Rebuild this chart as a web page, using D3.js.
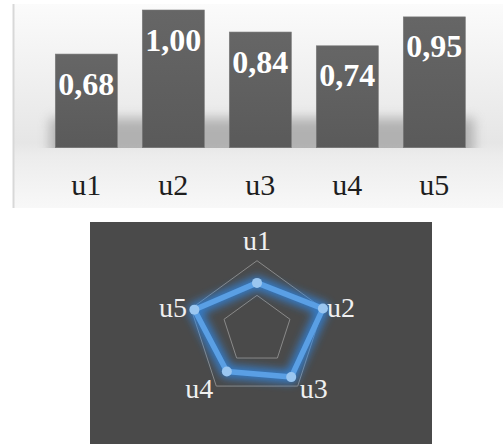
<!DOCTYPE html>
<html>
<head>
<meta charset="utf-8">
<script src="https://cdn.jsdelivr.net/npm/d3@7/dist/d3.min.js"></script>
<style>
  html, body { margin: 0; padding: 0; background: #ffffff; }
  svg { display: block; }
</style>
</head>
<body>
<svg id="chart" width="503" height="444"></svg>
<script>
const categories = ["u1", "u2", "u3", "u4", "u5"];
const values = [0.68, 1.00, 0.84, 0.74, 0.95];
const valueLabels = ["0,68", "1,00", "0,84", "0,74", "0,95"];
const radarLevels = [0.5, 1.0];

const svg = d3.select("#chart");
const defs = svg.append("defs");

const bg = defs.append("linearGradient").attr("id", "bgGrad").attr("x1", 0).attr("y1", 0).attr("x2", 0).attr("y2", 1);
bg.append("stop").attr("offset", "0%").attr("stop-color", "#fbfbfb");
bg.append("stop").attr("offset", "68%").attr("stop-color", "#e6e6e6");
bg.append("stop").attr("offset", "74%").attr("stop-color", "#ececec");
bg.append("stop").attr("offset", "100%").attr("stop-color", "#f8f8f8");

const barGrad = defs.append("linearGradient").attr("id", "barGrad").attr("x1", 0).attr("y1", 0).attr("x2", 0).attr("y2", 1);
barGrad.append("stop").attr("offset", "0%").attr("stop-color", "#666666");
barGrad.append("stop").attr("offset", "100%").attr("stop-color", "#5a5a5a");

defs.append("filter").attr("id", "shadowBlur").attr("x", "-20%").attr("y", "-100%").attr("width", "140%").attr("height", "300%")
  .append("feGaussianBlur").attr("stdDeviation", 6);
defs.append("filter").attr("id", "glow").attr("x", "-50%").attr("y", "-50%").attr("width", "200%").attr("height", "200%")
  .append("feGaussianBlur").attr("stdDeviation", 4.5);
defs.append("clipPath").attr("id", "shadowClip")
  .append("rect").attr("x", 13).attr("y", 90).attr("width", 490).attr("height", 58);

// ---------- Top bar chart ----------
svg.append("rect").attr("x", 13).attr("y", 4).attr("width", 490).attr("height", 204).attr("fill", "url(#bgGrad)");
svg.append("line").attr("x1", 13.5).attr("x2", 13.5).attr("y1", 4).attr("y2", 208)
  .attr("stroke", "#d8d8d8").attr("stroke-width", 2);

const x = d3.scaleBand().domain(categories).range([42.8, 477.8]).paddingInner(0.287).paddingOuter(0.1435);
const y = d3.scaleLinear().domain([0, 1]).range([147.7, 10]);

svg.append("g").attr("clip-path", "url(#shadowClip)")
  .append("rect").attr("x", 50).attr("y", 118).attr("width", 424).attr("height", 40)
  .attr("fill", "#8e8e8e").attr("opacity", 0.6).attr("filter", "url(#shadowBlur)");

const bars = svg.append("g");
bars.selectAll("rect").data(values).join("rect")
  .attr("x", (d, i) => x(categories[i]))
  .attr("y", d => y(d))
  .attr("width", x.bandwidth())
  .attr("height", d => y(0) - y(d))
  .attr("fill", "url(#barGrad)")
  .attr("stroke", "#7a7a7a").attr("stroke-width", 0.6);

bars.selectAll("text.val").data(values).join("text")
  .attr("class", "val")
  .attr("x", (d, i) => x(categories[i]) + x.bandwidth() / 2)
  .attr("y", d => y(d) + 40.5)
  .attr("text-anchor", "middle")
  .attr("font-family", "'Liberation Serif', 'Times New Roman', serif")
  .attr("font-weight", "bold")
  .attr("font-size", 32)
  .attr("fill", "#ffffff")
  .text((d, i) => valueLabels[i]);

const xAxis = d3.axisBottom(x).tickSize(0).tickPadding(0);
const axisG = svg.append("g").attr("transform", "translate(0,195)").call(xAxis);
axisG.select(".domain").remove();
axisG.selectAll("text")
  .attr("dy", 0).attr("y", 0)
  .attr("font-family", "'Liberation Serif', 'Times New Roman', serif")
  .attr("font-size", 30)
  .attr("fill", "#1e1e1e");

// ---------- Bottom radar chart ----------
svg.append("rect").attr("x", 90).attr("y", 222).attr("width", 342).attr("height", 222).attr("fill", "#4a4a4a");

const cx = 257, cy = 330, R = 69.3;
const r = d3.scaleLinear().domain([0, 1]).range([0, R]);
const angle = d3.scalePoint().domain(categories).range([0, 2 * Math.PI * (categories.length - 1) / categories.length]);

const radar = svg.append("g").attr("transform", `translate(${cx},${cy})`);
const ptFor = (cat, v) => [r(v) * Math.sin(angle(cat)), -r(v) * Math.cos(angle(cat))];

radar.selectAll("path.grid").data(radarLevels).join("path")
  .attr("class", "grid")
  .attr("d", lvl => d3.line()(categories.map(c => ptFor(c, lvl))) + "Z")
  .attr("fill", "none")
  .attr("stroke", "#8a8a8a")
  .attr("stroke-width", 1);

const pts = categories.map((c, i) => ptFor(c, values[i]));
const dataPath = d3.line()(pts) + "Z";

radar.append("path").attr("d", dataPath).attr("fill", "none")
  .attr("stroke", "#2f8cf0").attr("stroke-width", 13).attr("stroke-linejoin", "round")
  .attr("opacity", 0.75).attr("filter", "url(#glow)");
radar.append("path").attr("d", dataPath).attr("fill", "none")
  .attr("stroke", "#5a9fe4").attr("stroke-width", 5.5).attr("stroke-linejoin", "round");

radar.selectAll("circle").data(pts).join("circle")
  .attr("cx", d => d[0]).attr("cy", d => d[1]).attr("r", 5)
  .attr("fill", "#9ac6f0");

const labelPos = {
  u1: { dx: 0, dy: -10.5, anchor: "middle" },
  u2: { dx: 4, dy: 8.5, anchor: "start" },
  u3: { dx: 2, dy: 12, anchor: "start" },
  u4: { dx: -3, dy: 12, anchor: "end" },
  u5: { dx: -4, dy: 8.5, anchor: "end" }
};
radar.selectAll("text").data(categories).join("text")
  .attr("x", c => ptFor(c, 1)[0] + labelPos[c].dx)
  .attr("y", c => ptFor(c, 1)[1] + labelPos[c].dy)
  .attr("text-anchor", c => labelPos[c].anchor)
  .attr("font-family", "'Liberation Serif', 'Times New Roman', serif")
  .attr("font-size", 28)
  .attr("fill", "#f0f0f0")
  .text(c => c);
</script>
</body>
</html>
